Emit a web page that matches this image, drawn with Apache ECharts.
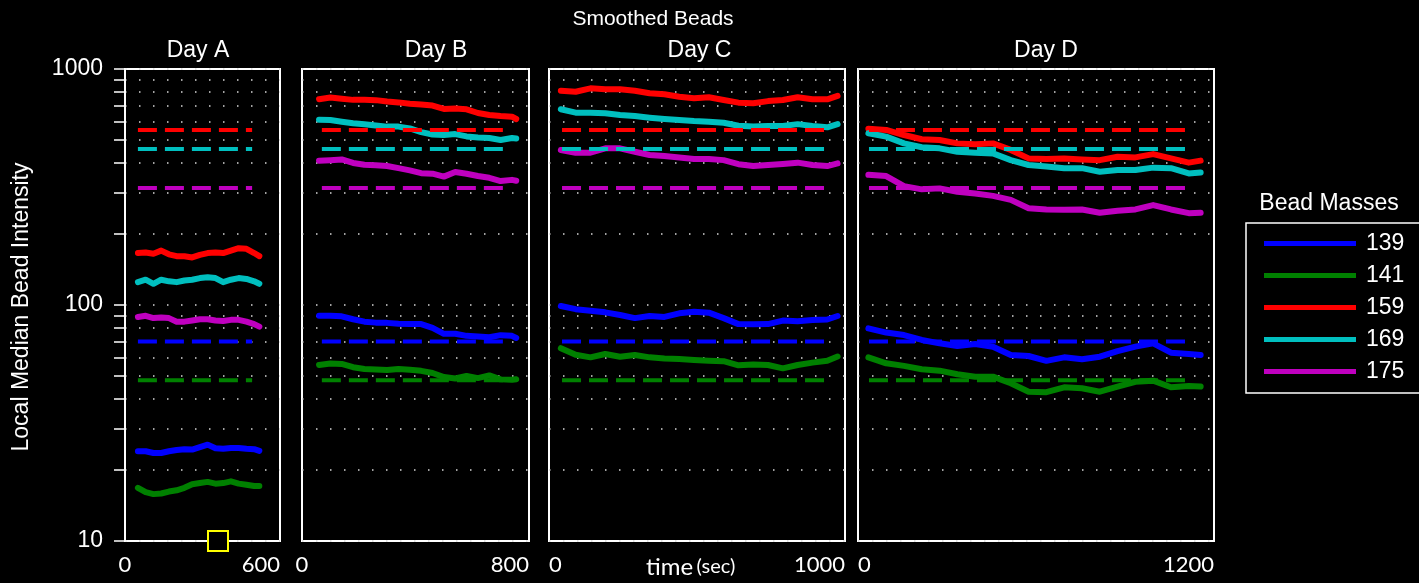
<!DOCTYPE html>
<html><head><meta charset="utf-8">
<script src="https://cdn.jsdelivr.net/npm/echarts@6/dist/echarts.min.js"></script>
<style>html,body{margin:0;padding:0;background:#000;}#c{width:1419px;height:583px;}</style>
</head><body><div id="c"></div>
<script>
// ---- data ----
const masses = ['139', '141', '159', '169', '175'];
const refLevels = [70, 48, 552, 458, 313];
const dayNames = ['Day A', 'Day B', 'Day C', 'Day D'];
const dayMax = [600, 800, 1000, 1200];
const refStart = [50, 70, 44, 37];
const refEnd = [492, 708, 936, 1126];
const yellowMark = [360, 10];

const timesA = [50, 80, 110, 140, 170, 200, 230, 260, 290, 320, 350, 380, 410, 440, 470, 500, 520];
const A139 = [24.0, 24.0, 23.6, 23.6, 24.0, 24.3, 24.5, 24.4, 25.0, 25.6, 24.7, 24.6, 24.8, 24.8, 24.6, 24.5, 24.1];
const A141 = [16.8, 16.1, 15.8, 15.9, 16.2, 16.4, 16.8, 17.4, 17.6, 17.8, 17.5, 17.6, 17.9, 17.5, 17.3, 17.1, 17.1];
const A159 = [166, 167, 165, 170, 164, 161, 161, 159, 163, 166, 167, 166, 170, 174, 173, 166, 161];
const A169 = [125, 128, 123, 128, 126, 125, 127, 128, 130, 131, 130, 125, 128, 130, 129, 126, 123];
const A175 = [89, 90, 88, 88.5, 88, 85, 85, 86, 87, 87, 86, 85.5, 86.5, 86.5, 85, 83, 81];

const timesB = [60, 100, 140, 180, 220, 260, 300, 340, 380, 420, 460, 500, 540, 580, 620, 660, 700, 740, 755];
const B139 = [90, 90, 89.5, 87, 85, 84.2, 84, 83.3, 83, 83, 80, 75.5, 75.5, 74, 73.5, 73, 74.5, 74, 72.5];
const B141 = [55.7, 56.5, 56.3, 54.5, 53.6, 53.3, 53, 53.5, 53.2, 52.6, 51.5, 49.5, 48.8, 50, 49, 50.3, 48.4, 48.2, 48.5];
const B159 = [745, 757, 748, 740, 740, 738, 728, 722, 712, 707, 700, 677, 680, 675, 651, 638, 632, 628, 614];
const B169 = [609, 608, 598, 589, 583, 576, 570, 570, 560, 540, 528, 525, 530, 518, 513, 510, 500, 510, 508];
const B175 = [409, 411, 414, 400, 393, 391, 388, 380, 372, 362, 360, 350, 366, 360, 352, 346, 335, 339, 336];

const timesC = [40, 90, 140, 190, 240, 290, 340, 390, 440, 490, 540, 590, 640, 690, 740, 790, 840, 890, 940, 975];
const C139 = [99, 96, 94.6, 93.1, 90.7, 88, 89.8, 89, 92.2, 93.7, 92.8, 88, 83, 82.8, 83, 85.9, 85.3, 86.4, 86.8, 89.8];
const C141 = [65.6, 61.5, 60, 62, 60.4, 61.4, 60, 59.4, 59, 58.5, 58.1, 57.8, 55.5, 56, 55.7, 53.9, 55.7, 57, 58, 60.5];
const C159 = [809, 801, 828, 820, 820, 809, 789, 781, 763, 752, 759, 739, 720, 716, 731, 739, 759, 744, 744, 769];
const C169 = [675, 653, 653, 649, 638, 632, 622, 614, 608, 602, 598, 592, 575, 570, 573, 573, 584, 573, 566, 584];
const C175 = [454, 442, 442, 461, 461, 446, 432, 428, 422, 416, 416, 411, 395, 388, 392, 396, 401, 392, 388, 398];

const timesD = [35, 95, 155, 215, 275, 335, 395, 455, 515, 575, 635, 695, 755, 815, 875, 935, 995, 1055, 1115, 1155];
const D139 = [79.6, 76.4, 74.6, 71.1, 68.8, 67, 68.4, 66.6, 61.4, 60.8, 58, 60, 58.9, 60.4, 63.8, 66.6, 68.8, 62.8, 62, 61.4];
const D141 = [60, 56.6, 55.2, 53.4, 52.7, 50.9, 49.7, 49.7, 46.6, 42.9, 42.7, 44.8, 44.4, 42.9, 45.1, 47.3, 47.8, 44.8, 45.4, 45.1];
const D159 = [558, 552, 525, 504, 500, 484, 480, 484, 454, 418, 416, 418, 414, 411, 425, 422, 436, 418, 401, 409];
const D169 = [534, 517, 484, 466, 461, 446, 442, 439, 411, 392, 386, 380, 380, 367, 373, 373, 382, 380, 361, 364];
const D175 = [356, 352, 319, 309, 312, 302, 297, 290, 279, 257, 254, 253, 254, 246, 251, 254, 265, 254, 245, 246];

// ---- layout / style ----
const massColors = ['#0000ff', '#008000', '#ff0000', '#00bfbf', '#bf00bf'];
const gridLeft = [125, 302, 549, 858];
const gridWidth = [155, 227, 296, 356];
const gridTop = 69, gridHeight = 472;
const dayTitleX = [198, 436, 699.5, 1046];
const minAlign = ['center', 'center', 'left', 'left'];

const dayTimes = [timesA, timesB, timesC, timesD];
const dayValues = [[A139, A141, A159, A169, A175], [B139, B141, B159, B169, B175],
                   [C139, C141, C159, C169, C175], [D139, D141, D159, D169, D175]];

const plain = v => String(v);
const dotStyle = { color: '#d8d8d8', width: 1.5, type: [1.5, 12.5] };
const grids = [], xAxes = [], yAxes = [], series = [];
for (let d = 0; d < 4; d++) {
  grids.push({ left: gridLeft[d], top: gridTop, width: gridWidth[d], height: gridHeight,
    show: true, borderColor: '#fff', borderWidth: 2, backgroundColor: 'transparent' });
  xAxes.push({ type: 'value', gridIndex: d, min: 0, max: dayMax[d], interval: dayMax[d],
    axisLine: { show: false }, axisTick: { show: false }, splitLine: { show: false },
    axisLabel: { show: true, color: '#fff', fontFamily: 'Lato', fontSize: 22, lineHeight: 22, margin: 13,
      formatter: plain, alignMinLabel: minAlign[d], alignMaxLabel: 'right' } });
  const first = d === 0;
  yAxes.push({ type: 'log', logBase: 10, gridIndex: d, min: 10, max: 1000,
    axisLine: { show: first, lineStyle: { color: '#fff', width: 2 } },
    axisTick: { show: first, inside: false, length: 11, lineStyle: { color: '#fff', width: 1.5 } },
    minorTick: { show: first, splitNumber: 9, length: 11, lineStyle: { color: '#fff', width: 1.5 } },
    axisLabel: { show: first, color: '#fff', fontSize: 23, fontFamily: 'Liberation Sans', margin: 22, formatter: plain },
    splitLine: { show: true, lineStyle: dotStyle },
    minorSplitLine: { show: true, lineStyle: dotStyle } });
  for (let m = 0; m < 5; m++) {
    const s = { type: 'line', name: masses[m], xAxisIndex: d, yAxisIndex: d,
      data: dayTimes[d].map((t, i) => [t, dayValues[d][m][i]]),
      showSymbol: false, symbol: 'none', silent: true, z: 2,
      lineStyle: { width: 6, color: massColors[m], cap: 'round', join: 'round' },
      itemStyle: { color: massColors[m] } };
    if (d === 0 && m === 0) {
      s.markPoint = { symbol: 'rect', symbolSize: 20, silent: true, label: { show: false },
        itemStyle: { color: '#000', borderColor: '#ffff00', borderWidth: 2 },
        data: [{ coord: yellowMark }] };
    }
    series.push(s);
  }
  for (let m = 0; m < 5; m++) {
    series.push({ type: 'line', name: masses[m] + ' ref', xAxisIndex: d, yAxisIndex: d,
      data: [[refStart[d], refLevels[m]], [refEnd[d], refLevels[m]]],
      showSymbol: false, symbol: 'none', silent: true, z: 3,
      lineStyle: { width: 4, color: massColors[m], type: [19, 8] },
      itemStyle: { color: massColors[m] } });
  }
}

const graphics = [
  { type: 'text', x: 653, y: 19, style: { text: 'Smoothed Beads', fill: '#fff', font: '21px "Liberation Sans"', align: 'center', verticalAlign: 'middle' } },
  { type: 'text', x: 22, y: 307, rotation: Math.PI / 2, style: { text: 'Local Median Bead Intensity', fill: '#fff', font: '23px "Liberation Sans"', align: 'center', verticalAlign: 'middle' } },
  { type: 'text', x: 1329, y: 204, style: { text: 'Bead Masses', fill: '#fff', font: '23px "Liberation Sans"', align: 'center', verticalAlign: 'middle' } },
  { type: 'text', x: 646, y: 567, style: { text: '{a|time} {b|(sec)}', align: 'left', verticalAlign: 'middle',
      rich: { a: { fill: '#fff', fontFamily: 'Lato', fontSize: 24 }, b: { fill: '#fff', fontFamily: 'Lato', fontSize: 20 } } } }
];
for (let d = 0; d < 4; d++) {
  graphics.push({ type: 'text', x: dayTitleX[d], y: 51, style: { text: dayNames[d], fill: '#fff', font: '23px "Liberation Sans"', align: 'center', verticalAlign: 'middle' } });
}

const chart = echarts.init(document.getElementById('c'), null, { renderer: 'canvas' });
chart.setOption({
  backgroundColor: '#000',
  animation: false,
  grid: grids, xAxis: xAxes, yAxis: yAxes, series: series,
  legend: { orient: 'vertical', left: 1246, top: 223, data: masses, icon: 'rect',
    itemWidth: 92, itemHeight: 5, itemGap: 9, padding: [9, 70, 10, 18],
    borderColor: '#fff', borderWidth: 1.5, selectedMode: false,
    textStyle: { color: '#fff', fontSize: 23, fontFamily: 'Liberation Sans', lineHeight: 22, padding: [0, 0, 0, 5] } },
  graphic: graphics
});
</script></body></html>
